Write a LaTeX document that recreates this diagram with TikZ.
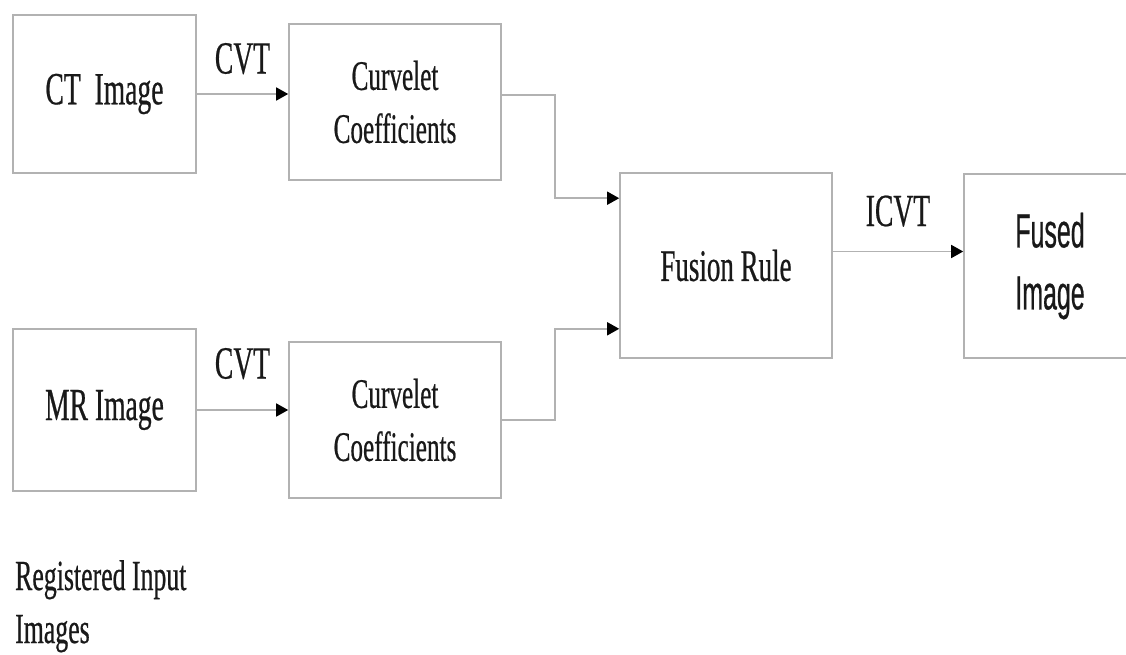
\documentclass[tikz,border=0pt]{standalone}
\usepackage{fontspec}
\setmainfont{Liberation Serif}
\newfontfamily\narrowserif[FakeStretch=0.6, FakeBold=0.5]{Liberation Serif}
\newfontfamily\narrowsans[FakeStretch=0.52, FakeBold=0.5]{Liberation Sans}
\usetikzlibrary{arrows.meta}

\begin{document}
\begin{tikzpicture}[
        x=1pt, y=-1pt,
        box/.style={rectangle, draw=gray!60, line width=1.6pt, inner sep=0pt, align=center, text=black!90},
        conn/.style={draw=gray!60, line width=1.6pt, -{Triangle[length=12pt, width=13pt, color=black]}},
        lbl/.style={text=black!90, inner sep=0pt, font=\narrowserif\fontsize{46}{50}\selectfont},
        coeff/.style={box, minimum width=212pt, minimum height=156pt, font=\narrowserif\fontsize{42}{53}\selectfont}
    ]
        \useasboundingbox (0,0) rectangle (1126,655);

        %Input images
        \node[box, minimum width=183pt, minimum height=158pt, font=\narrowserif\fontsize{46}{50}\selectfont] (ct) at (104.5,94) {CT\ \ Image};
        \node[box, minimum width=183pt, minimum height=162pt, font=\narrowserif\fontsize{46}{50}\selectfont] (mr) at (104.5,410) {MR Image};
        \node[lbl, anchor=north west, align=left, font=\narrowserif\fontsize{43}{53}\selectfont] (reg) at (15,560) {Registered Input\\Images};

        %Curvelet coefficients
        \node[coeff] (cv_top) at (395,102) {Curvelet\\Coefficients};
        \node[coeff] (cv_bot) at (395,420) {Curvelet\\Coefficients};

        %Fusion and output
        \node[box, minimum width=212pt, minimum height=185pt, font=\narrowserif\fontsize{45}{50}\selectfont] (fusion) at (726,265.5) {Fusion Rule};
        \node[box, minimum width=172pt, minimum height=184pt, font=\narrowsans\fontsize{48}{62}\selectfont] (fused) at (1050,266) {Fused\\Image};

        %Connectors
        \draw[conn] (ct.east) -- node[lbl, above=19pt] (cvt_top) {CVT} (ct.east -| cv_top.west);
        \draw[conn] (mr.east) -- node[lbl, above=30pt] (cvt_bot) {CVT} (mr.east -| cv_bot.west);
        \draw[conn] ([yshift=7pt]cv_top.east) -- ++(53,0) |- ([yshift=-26pt]fusion.north west);
        \draw[conn] (cv_bot.east) -- ++(53,0) |- ([yshift=30pt]fusion.south west);
        \draw[conn] ([yshift=14pt]fusion.east) -- node[lbl, above=24pt] (icvt) {ICVT} ([yshift=14pt]fusion.east -| fused.west);
    \end{tikzpicture}
\end{document}
